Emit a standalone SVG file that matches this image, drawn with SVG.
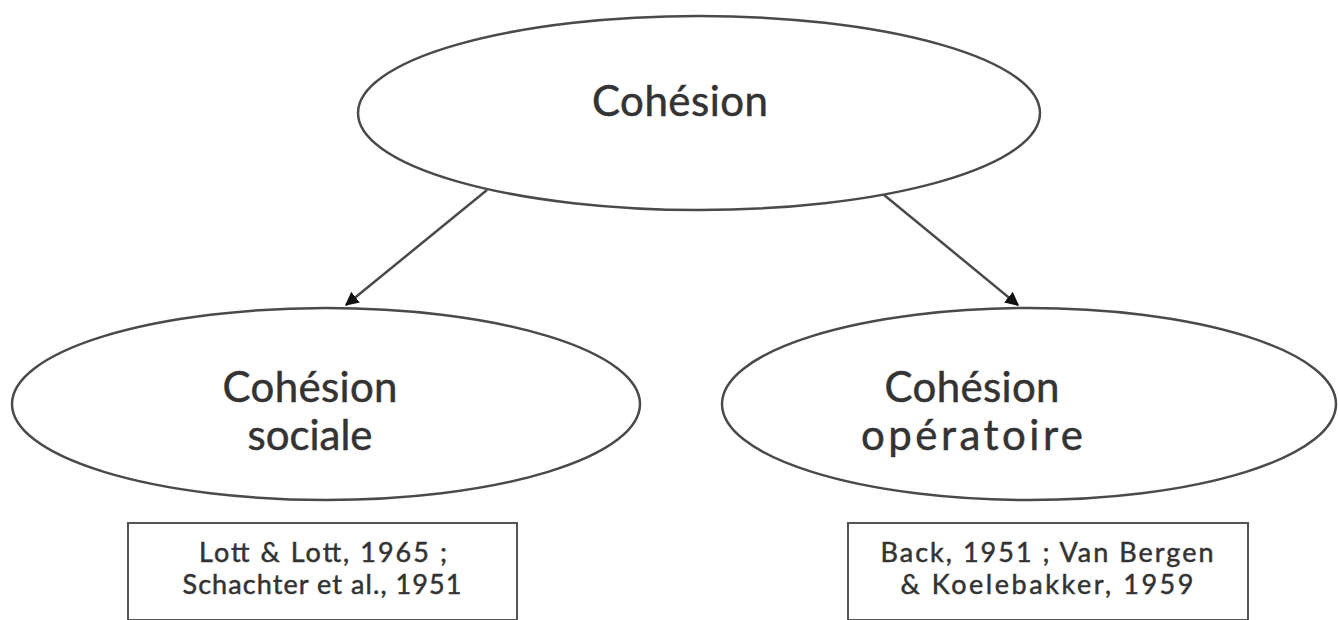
<svg xmlns="http://www.w3.org/2000/svg" width="1338" height="620" viewBox="0 0 1338 620">
  <style>
    .shape { fill: #ffffff; stroke: #4a4a4a; stroke-width: 2.5; }
    .box { fill: #ffffff; stroke: #555555; stroke-width: 2; }
    .label { font-family: Lato, "Open Sans", sans-serif; fill: #333333; stroke: #333333; stroke-width: 0.5; text-anchor: middle; }
    .big { font-size: 42px; }
    .small { font-size: 27px; }
    .edge { stroke: #4a4a4a; stroke-width: 2.5; fill: none; marker-end: url(#head); }
  </style>
  <defs>
    <marker id="head" viewBox="0 0 10 10" refX="9" refY="5" markerWidth="5.5" markerHeight="5.5" orient="auto" markerUnits="strokeWidth">
      <path d="M0,0 L10,5 L0,10 z" fill="#111111"/>
    </marker>
  </defs>
  <rect width="1338" height="620" fill="#ffffff"/>

  <g id="edges">
    <line class="edge" x1="487" y1="190" x2="346" y2="305"/>
    <line class="edge" x1="878" y1="190" x2="1018" y2="305"/>
  </g>

  <g id="cohesion">
    <ellipse class="shape" cx="699" cy="113" rx="341" ry="97"/>
    <text class="label big" x="680" y="116" textLength="176" lengthAdjust="spacing">Cohésion</text>
  </g>

  <g id="cohesion-sociale">
    <ellipse class="shape" cx="326" cy="404" rx="314" ry="96"/>
    <text class="label big" x="310" y="402" textLength="175" lengthAdjust="spacing">Cohésion</text>
    <text class="label big" x="310" y="450" textLength="125" lengthAdjust="spacing">sociale</text>
  </g>

  <g id="cohesion-operatoire">
    <ellipse class="shape" cx="1029" cy="404" rx="307" ry="96"/>
    <text class="label big" x="972" y="402" textLength="175" lengthAdjust="spacing">Cohésion</text>
    <text class="label big" x="972" y="450" textLength="222" lengthAdjust="spacing">opératoire</text>
  </g>

  <g id="ref-sociale">
    <rect class="box" x="128" y="523" width="389" height="97"/>
    <text class="label small" x="323" y="562" textLength="248" lengthAdjust="spacing">Lott &amp; Lott, 1965 ;</text>
    <text class="label small" x="322" y="594" textLength="279" lengthAdjust="spacing">Schachter et al., 1951</text>
  </g>

  <g id="ref-operatoire">
    <rect class="box" x="848" y="523" width="400" height="97"/>
    <text class="label small" x="1047" y="562" textLength="333" lengthAdjust="spacing">Back, 1951 ; Van Bergen</text>
    <text class="label small" x="1047" y="594" textLength="293" lengthAdjust="spacing">&amp; Koelebakker, 1959</text>
  </g>
</svg>
